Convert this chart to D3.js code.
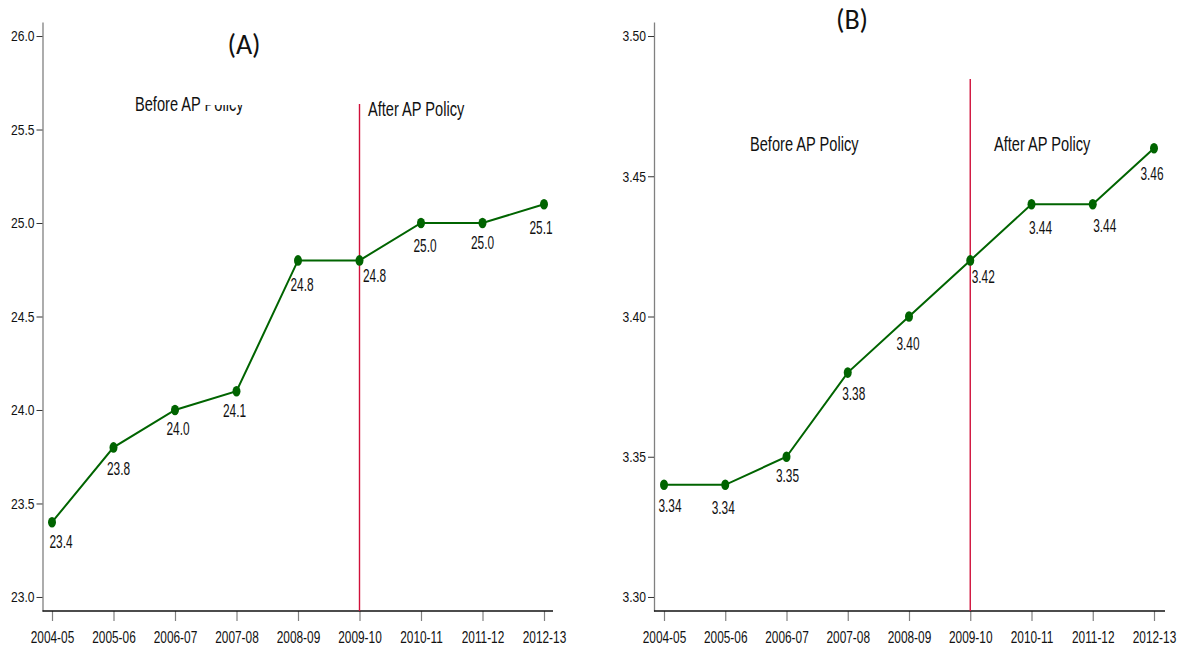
<!DOCTYPE html>
<html>
<head>
<meta charset="utf-8">
<script src="https://cdn.jsdelivr.net/npm/d3@7"></script>
<style>
  html, body { margin: 0; padding: 0; background: #fff; }
  svg { display: block; }
  text { font-family: "Liberation Sans", Arial, sans-serif; fill: #111; }
  text.panel-title { font-family: Carlito, Calibri, "Open Sans", sans-serif; }
</style>
</head>
<body>
<svg id="chart" width="1183" height="649"></svg>
<script>
// Survey years shown on both panels
const years = ["2004-05", "2005-06", "2006-07", "2007-08", "2008-09",
               "2009-10", "2010-11", "2011-12", "2012-13"];

// Panel A series and its tick labels
const valuesA = [23.4, 23.8, 24.0, 24.1, 24.8, 24.8, 25.0, 25.0, 25.1];
const ticksA = [23.0, 23.5, 24.0, 24.5, 25.0, 25.5, 26.0];

// Panel B series and its tick labels
const valuesB = [3.34, 3.34, 3.35, 3.38, 3.40, 3.42, 3.44, 3.44, 3.46];
const ticksB = [3.30, 3.35, 3.40, 3.45, 3.50];

// Year in which the AP policy starts
const policyYear = "2009-10";

const svg = d3.select("#chart");

function drawPanel(cfg) {
  const g = svg.append("g");

  const x = d3.scalePoint().domain(years).range([cfg.x0, cfg.x1]);
  const y = d3.scaleLinear().domain(cfg.domain).range([cfg.yBottom, cfg.yTop]);
  const fmt = d3.format(cfg.fmt);

  // y axis
  const yAxis = d3.axisLeft(y).tickValues(cfg.ticks)
    .tickFormat(fmt).tickSize(6).tickSizeOuter(0).tickPadding(2);
  const ya = g.append("g").attr("transform", `translate(${cfg.axisX},0)`).call(yAxis);
  ya.attr("font-family", null).attr("font-size", null);
  ya.select(".domain").attr("stroke", "#808080").attr("stroke-width", 1.3);
  ya.selectAll(".tick line").attr("stroke", "#333");
  ya.selectAll(".tick text").attr("font-size", 15.5).attr("fill", "#111")
    .attr("data-squeeze", 0.78);

  // x axis
  const xAxis = d3.axisBottom(x).tickSize(10).tickSizeOuter(0).tickPadding(11);
  const xa = g.append("g").attr("transform", `translate(0,${cfg.yBottom})`).call(xAxis);
  xa.attr("font-family", null).attr("font-size", null);
  xa.select(".domain").remove();
  xa.append("line").attr("x1", cfg.axisX).attr("x2", cfg.axisEnd)
    .attr("y1", 0).attr("y2", 0).attr("stroke", "#111").attr("stroke-width", 1.5);
  xa.selectAll(".tick line").attr("stroke", "#808080").attr("stroke-width", 1.2);
  xa.selectAll(".tick text").attr("font-size", 16).attr("fill", "#111")
    .attr("data-squeeze", 0.74);

  // policy marker
  g.append("line")
    .attr("x1", x(policyYear)).attr("x2", x(policyYear))
    .attr("y1", cfg.policyTop).attr("y2", cfg.yBottom)
    .attr("stroke", "#d0103a").attr("stroke-width", 1.4);

  const data = years.map((yr, i) => ({ yr, v: cfg.values[i], nudge: cfg.labelNudge[i] }));

  // series line
  g.append("path").datum(data)
    .attr("fill", "none").attr("stroke", "#006400").attr("stroke-width", 2)
    .attr("d", d3.line().x(d => x(d.yr)).y(d => y(d.v)));

  // markers
  g.selectAll("ellipse.pt").data(data).join("ellipse")
    .attr("class", "pt")
    .attr("cx", d => x(d.yr)).attr("cy", d => y(d.v))
    .attr("rx", 4).attr("ry", 5.3).attr("fill", "#006400");

  // value labels under each marker
  g.selectAll("text.val").data(data).join("text")
    .attr("class", "val")
    .attr("x", d => x(d.yr) + d.nudge[0])
    .attr("y", d => y(d.v) + d.nudge[1])
    .attr("text-anchor", "middle")
    .attr("font-size", 18)
    .attr("data-squeeze", 0.66)
    .text(d => fmt(d.v));

  // panel title
  g.append("text").attr("class", "panel-title")
    .attr("x", cfg.titleX).attr("y", cfg.titleY)
    .attr("text-anchor", "middle").attr("font-size", 28)
    .text(cfg.title);

  // period annotations
  g.append("text")
    .attr("x", cfg.beforeX).attr("y", cfg.beforeY)
    .attr("font-size", 20).attr("data-squeeze", 0.73)
    .text("Before AP Policy");
  g.append("text")
    .attr("x", cfg.afterX).attr("y", cfg.afterY)
    .attr("font-size", 20).attr("data-squeeze", 0.73)
    .text("After AP Policy");

  return g;
}

const gA = drawPanel({
  values: valuesA, ticks: ticksA, fmt: ".1f",
  domain: [22.925, 26.075], yBottom: 611, yTop: 22,
  x0: 52, x1: 544, axisX: 42.5, axisEnd: 553,
  policyTop: 104,
  labelNudge: [[9, 26], [5, 28], [3, 25], [-2, 26], [4, 31],
               [15, 22], [4, 29], [0, 26], [-3, 30]],
  title: "(A)", titleX: 244, titleY: 54,
  beforeX: 135, beforeY: 111, afterX: 368, afterY: 116
});

drawPanel({
  values: valuesB, ticks: ticksB, fmt: ".2f",
  domain: [3.295, 3.505], yBottom: 611, yTop: 22,
  x0: 664, x1: 1154, axisX: 654, axisEnd: 1165,
  policyTop: 79,
  labelNudge: [[6, 27], [-2, 29], [1, 25], [6, 27], [-1, 33],
               [13, 23], [9, 30], [12, 28], [-2, 32]],
  title: "(B)", titleX: 852, titleY: 29,
  beforeX: 750, beforeY: 151, afterX: 994, afterY: 151
});

// condensed lettering: squeeze each tagged label horizontally
svg.selectAll("text[data-squeeze]").each(function () {
  const f = +this.getAttribute("data-squeeze");
  const w = this.getComputedTextLength();
  this.setAttribute("textLength", (w * f).toFixed(2));
  this.setAttribute("lengthAdjust", "spacingAndGlyphs");
});

// the upper part of "Policy" in panel A's first annotation is blanked out
gA.append("rect").attr("x", 205).attr("y", 88).attr("width", 50).attr("height", 17).attr("fill", "#fff");
</script>
</body>
</html>
